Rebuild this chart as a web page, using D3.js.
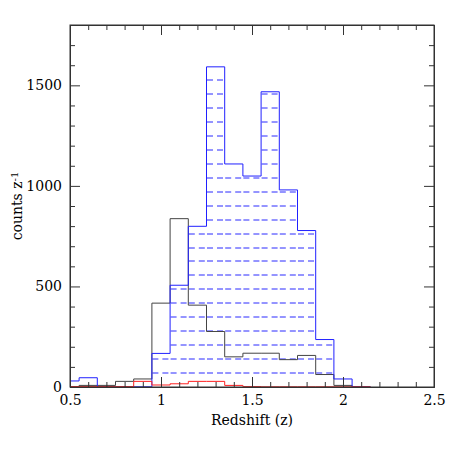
<!DOCTYPE html>
<html>
<head>
<meta charset="utf-8">
<script src="https://cdn.jsdelivr.net/npm/d3@7"></script>
<style>
  body { margin: 0; background: #fff; }
  svg text { font-family: "DejaVu Serif", serif; fill: #000; }
</style>
</head>
<body>
<svg id="chart" width="458" height="458"></svg>
<script>
// bin centres (width 0.1)
const binCenters = [0.5, 0.6, 0.7, 0.8, 0.9, 1.0, 1.1, 1.2, 1.3, 1.4, 1.5, 1.6, 1.7, 1.8, 1.9, 2.0, 2.1];
const blueCounts = [30, 46, 1, 1, 1, 167, 506, 799, 1592, 1109, 1049, 1468, 980, 778, 236, 40, 1];
const blackCounts = [0, 8, 8, 28, 40, 417, 837, 407, 276, 150, 168, 168, 136, 157, 62, 8, 0];
const redCounts = [2, 2, 2, 2, 28, 10, 16, 28, 28, 8, 2, 1, 1, 1, 1, 1, 1];
const binWidth = 0.1;

const xMajor = [0.5, 1, 1.5, 2, 2.5];
const yMajor = [0, 500, 1000, 1500];

const margin = { top: 25, right: 24, bottom: 71, left: 70 };
const width = 458 - margin.left - margin.right;
const height = 458 - margin.top - margin.bottom;

const svg = d3.select('#chart');
const g = svg.append('g').attr('transform', `translate(${margin.left}, ${margin.top})`);

const xScale = d3.scaleLinear().domain([0.5, 2.5]).range([0, width]);
const yScale = d3.scaleLinear().domain([0, 1800]).range([height, 0]);

g.append('clipPath').attr('id', 'plotClip')
  .append('rect').attr('width', width).attr('height', height);

// step outline from the bin values
function stepPoints(counts) {
  const pts = [[binCenters[0] - binWidth / 2, 0]];
  counts.forEach((c, i) => {
    pts.push([binCenters[i] - binWidth / 2, c]);
    pts.push([binCenters[i] + binWidth / 2, c]);
  });
  pts.push([binCenters[binCenters.length - 1] + binWidth / 2, 0]);
  return pts;
}

const line = d3.line().x(d => xScale(d[0])).y(d => yScale(d[1]));

const plot = g.append('g').attr('clip-path', 'url(#plotClip)');

// dashed hatch inside each blue bin (pattern restarts per bin)
const hatchGap = 13.95;
const hatchLevels = d3.range(1, Math.floor(height / hatchGap) + 1)
  .map(k => Math.round(height - k * hatchGap));

const hatchSegs = [];
blueCounts.forEach((c, i) => {
  const top = yScale(c);
  hatchLevels.filter(hy => hy > top + 1).forEach(hy => {
    hatchSegs.push({ x0: binCenters[i] - binWidth / 2, x1: binCenters[i] + binWidth / 2, y: hy });
  });
});

plot.append('g')
  .selectAll('path')
  .data(hatchSegs)
  .join('path')
  .attr('d', d => `M${xScale(d.x0) + 0.5},${d.y}H${xScale(d.x1)}`)
  .attr('fill', 'none')
  .style('stroke', '#2a2aff')
  .style('stroke-width', '1px')
  .style('stroke-dasharray', '6 4');

const series = [
  { counts: blackCounts, color: '#444' },
  { counts: blueCounts, color: '#2020ff' },
  { counts: redCounts, color: '#ff2020' }
];

series.forEach(s => {
  plot.append('path')
    .attr('d', line(stepPoints(s.counts)))
    .attr('fill', 'none')
    .attr('stroke', s.color)
    .attr('stroke-width', 1);
});

// axes, ticks inward on all four sides
const xMinor = d3.range(5, 26).map(d => d / 10).filter(d => !xMajor.includes(d));
const yMinor = d3.range(0, 1801, 100).filter(d => !yMajor.includes(d));

function addAxis(axisFn, scale, ticks, size, transform, labels) {
  const a = g.append('g')
    .attr('transform', transform)
    .call(axisFn(scale).tickValues(ticks).tickSizeInner(-size).tickSizeOuter(0)
      .tickPadding(size + 6)
      .tickFormat(labels ? d3.format('') : ''));
  a.selectAll('path, line').attr('stroke', '#333');
  a.selectAll('text').style('font-size', '14px').style('font-family', '"DejaVu Serif", serif');
  return a;
}

addAxis(d3.axisBottom, xScale, xMajor, 10, `translate(0,${height})`, true)
  .selectAll('text').attr('dy', '0.9em');
addAxis(d3.axisBottom, xScale, xMinor, 5, `translate(0,${height})`, false);
addAxis(d3.axisTop, xScale, xMajor, 10, 'translate(0,0)', false);
addAxis(d3.axisTop, xScale, xMinor, 5, 'translate(0,0)', false);
addAxis(d3.axisLeft, yScale, yMajor, 10, 'translate(0,0)', true);
addAxis(d3.axisLeft, yScale, yMinor, 5, 'translate(0,0)', false);
addAxis(d3.axisRight, yScale, yMajor, 10, `translate(${width},0)`, false);
addAxis(d3.axisRight, yScale, yMinor, 5, `translate(${width},0)`, false);

// fix label padding (tickPadding counted from inner tick)
g.selectAll('.tick text').each(function () {
  const t = d3.select(this);
  if (t.attr('x') !== null && +t.attr('x') < 0) t.attr('x', -8);
  if (t.attr('y') !== null && +t.attr('y') > 0) t.attr('y', 5);
});

g.append('rect')
  .attr('width', width).attr('height', height)
  .attr('fill', 'none').attr('stroke', '#333').attr('stroke-width', 1);

// axis titles
svg.append('text')
  .attr('x', margin.left + width / 2)
  .attr('y', 425)
  .attr('text-anchor', 'middle')
  .style('font-size', '14px')
  .text('Redshift (z)');

const yTitle = svg.append('text')
  .attr('transform', `translate(22, ${margin.top + height / 2}) rotate(-90)`)
  .attr('text-anchor', 'middle')
  .style('font-size', '14px');
yTitle.append('tspan').text('counts z');
yTitle.append('tspan').attr('dy', '-0.45em').style('font-size', '10px').text('-1');
</script>
</body>
</html>
